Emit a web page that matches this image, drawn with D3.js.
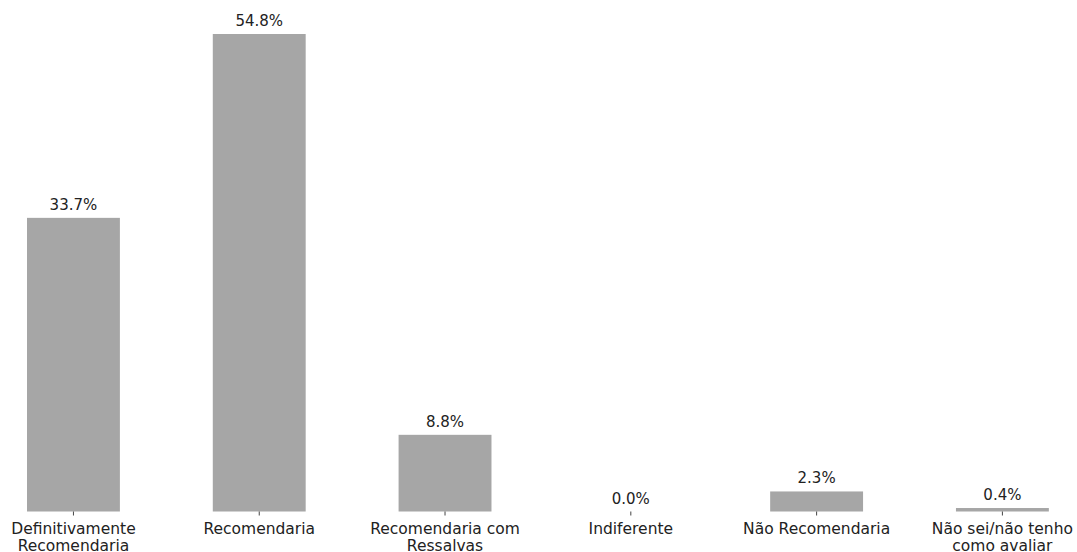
<!DOCTYPE html>
<html><head><meta charset="utf-8">
<script src="https://cdn.jsdelivr.net/npm/d3@7/dist/d3.min.js"></script>
<style>body{margin:0;background:#fff}svg{display:block}</style>
</head><body>
<script>
const categories = ["Definitivamente Recomendaria","Recomendaria","Recomendaria com Ressalvas","Indiferente","Não Recomendaria","Não sei/não tenho como avaliar"];
const tickLabels = [["Definitivamente","Recomendaria"],["Recomendaria"],["Recomendaria com","Ressalvas"],["Indiferente"],["Não Recomendaria"],["Não sei/não tenho","como avaliar"]];
const values = [33.7, 54.8, 8.8, 0.0, 2.3, 0.4];

const W = 1077, H = 552;
const svg = d3.select("body").append("svg").attr("width", W).attr("height", H);
const x = d3.scaleBand().domain(categories).range([-19.45, 1095.3]).paddingInner(0.5).paddingOuter(0.25);
const y = d3.scaleLinear().domain([0, 54.8]).range([511.5, 34]);

svg.selectAll("rect.bar").data(values).join("rect")
  .attr("x", (d,i) => x(categories[i])).attr("width", x.bandwidth())
  .attr("y", d => y(d)).attr("height", d => y(0) - y(d))
  .attr("fill", "#a6a6a6");

svg.selectAll("text.val").data(values).join("text")
  .attr("x", (d,i) => x(categories[i]) + x.bandwidth()/2)
  .attr("y", d => y(d) - 8)
  .attr("text-anchor", "middle")
  .attr("font-family", "DejaVu Sans").attr("font-size", 15).attr("fill", "#222")
  .text(d => d.toFixed(1) + "%");

const axis = svg.append("g").attr("transform", `translate(0,${y(0)})`)
  .call(d3.axisBottom(x).tickSize(4).tickSizeOuter(0).tickFormat(""));
axis.select(".domain").remove();
axis.selectAll(".tick line").attr("stroke", "#444");
axis.selectAll(".tick").each(function(d, i) {
  const t = d3.select(this).append("text")
    .attr("text-anchor", "middle").attr("font-family", "DejaVu Sans")
    .attr("font-size", 15.5).attr("fill", "#222");
  tickLabels[i].forEach((line, j) => {
    t.append("tspan").attr("x", 0).attr("y", 22 + j * 17.5).text(line);
  });
});
</script>
</body></html>
